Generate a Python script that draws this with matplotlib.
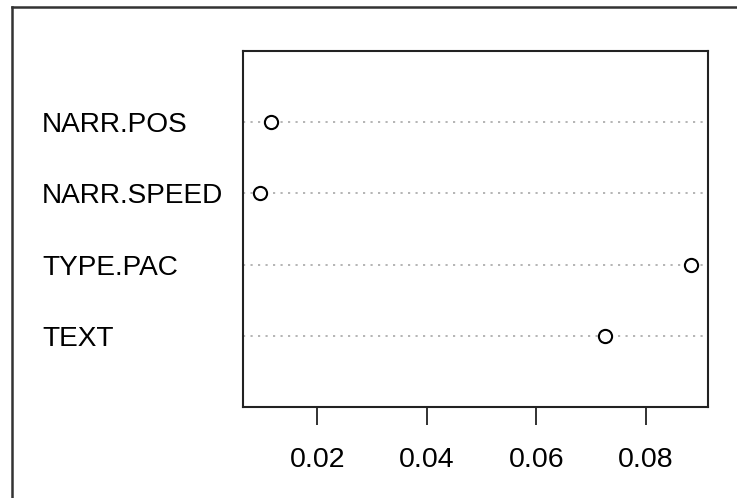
import matplotlib
matplotlib.use("Agg")
import matplotlib.pyplot as plt
from matplotlib.lines import Line2D
from matplotlib.transforms import blended_transform_factory

plt.rcParams['font.family'] = ['Liberation Sans', 'DejaVu Sans']

# Data (bottom to top, as in R's dotchart)
labels = ["TEXT", "TYPE.PAC", "NARR.SPEED", "NARR.POS"]
values = [0.0725, 0.0882, 0.0096, 0.0116]
xticks = [0.02, 0.04, 0.06, 0.08]

fig = plt.figure(figsize=(7.37, 4.98), dpi=100)
ax = fig.add_axes([243 / 737, 1 - 407 / 498, (708 - 243) / 737, (407 - 51) / 498])

ypos = list(range(1, len(labels) + 1))
for y in ypos:
    ax.axhline(y, color='#a8a8a8', linestyle=(0, (1.3, 3.2)), linewidth=1.2, zorder=1)
ax.plot(values, ypos, linestyle='none', marker='o', markersize=9.5,
        markerfacecolor='white', markeredgecolor='black', markeredgewidth=1.5, zorder=3)

lo, hi = min(values), max(values)
pad = (hi - lo) * 0.04
ax.set_xlim(lo - pad, hi + pad)
ax.set_ylim(0, len(labels) + 1)

ax.set_xticks(xticks)
ax.set_xticklabels([f"{t:.2f}" for t in xticks], fontsize=20.5)
ax.tick_params(axis='x', length=13, width=1.3, pad=16, color='#222222')
ax.set_yticks([])
for s in ax.spines.values():
    s.set_linewidth(1.5)
    s.set_color('#222222')

# row labels, left aligned like R's dotchart
trans = blended_transform_factory(fig.transFigure, ax.transData)
for y, lab in zip(ypos, labels):
    ax.text(42 / 737, y, lab, transform=trans, ha='left', va='center_baseline',
            fontsize=20.2, clip_on=False)

# outer frame lines (top and left)
fig.add_artist(Line2D([12 / 737, 1], [1 - 7 / 498, 1 - 7 / 498], transform=fig.transFigure,
                      color='#333333', linewidth=1.8))
fig.add_artist(Line2D([12 / 737, 12 / 737], [0, 1 - 7 / 498], transform=fig.transFigure,
                      color='#333333', linewidth=1.8))

fig.savefig("out.png", dpi=100)
